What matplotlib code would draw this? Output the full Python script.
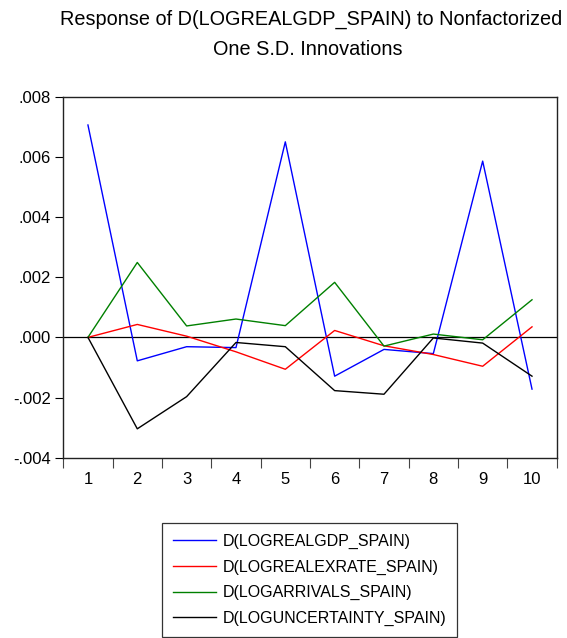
import matplotlib
matplotlib.use("Agg")
import matplotlib.pyplot as plt
from matplotlib.ticker import FixedLocator, FuncFormatter

plt.rcParams['font.family'] = ['Liberation Sans', 'DejaVu Sans']

# Data
periods = [1, 2, 3, 4, 5, 6, 7, 8, 9, 10]
gdp = [0.00706, -0.00078, -0.00031, -0.00034, 0.00650, -0.00129, -0.00040, -0.00054, 0.00586, -0.00172]
exrate = [0.0, 0.00043, 0.00004, -0.00048, -0.00106, 0.00023, -0.00028, -0.00057, -0.00096, 0.00035]
arrivals = [0.0, 0.00249, 0.00038, 0.00061, 0.00039, 0.00183, -0.00029, 0.00011, -0.00008, 0.00125]
uncertainty = [0.0, -0.00304, -0.00197, -0.00017, -0.00031, -0.00177, -0.00189, -0.00002, -0.00019, -0.00129]

labels = ["D(LOGREALGDP_SPAIN)", "D(LOGREALEXRATE_SPAIN)",
          "D(LOGARRIVALS_SPAIN)", "D(LOGUNCERTAINTY_SPAIN)"]
colors = ["#0000ff", "#ff0000", "#008000", "#000000"]
title_lines = ["Response of D(LOGREALGDP_SPAIN) to Nonfactorized", "One S.D. Innovations"]

fig = plt.figure(figsize=(5.67, 6.38), dpi=100)
ax = fig.add_axes([0.1116, 0.2826, 0.8702, 0.5658])

lines = []
for series, lab, col in zip([gdp, exrate, arrivals, uncertainty], labels, colors):
    ln, = ax.plot(periods, series, color=col, linewidth=1.0, label=lab)
    lines.append(ln)

ax.axhline(0, color='black', linewidth=0.9, zorder=1)

ax.set_xlim(0.5, 10.5)
ax.set_ylim(-0.004, 0.008)

# x: labels at integers, tick marks between periods
ax.set_xticks(periods)
ax.tick_params(axis='x', which='major', length=0, pad=10, labelsize=12)
ax.xaxis.set_minor_locator(FixedLocator([p - 0.5 for p in periods] + [10.5]))
ax.tick_params(axis='x', which='minor', length=7, width=0.8, direction='out', color='#444444')

ax.set_yticks([-0.004, -0.002, 0.0, 0.002, 0.004, 0.006, 0.008])
ax.yaxis.set_major_formatter(FuncFormatter(lambda v, p: ("%.3f" % v).replace("0.", ".")))
ax.tick_params(axis='y', length=6, width=0.8, direction='out', labelsize=12, pad=3)

for sp in ax.spines.values():
    sp.set_linewidth(1.0)
    sp.set_color('#222222')

fig.text(0.548, 0.961, title_lines[0], ha='center', va='baseline', fontsize=14.3)
fig.text(0.543, 0.914, title_lines[1], ha='center', va='baseline', fontsize=14.3)

leg = fig.legend(handles=lines, loc='upper left', bbox_to_anchor=(0.286, 0.180),
                 fontsize=11.5, frameon=True, fancybox=False, edgecolor='black',
                 handlelength=2.7, handletextpad=0.45, labelspacing=0.67,
                 borderpad=0.65, borderaxespad=0)
leg.get_frame().set_linewidth(0.9)

fig.savefig("out.png", dpi=100)
